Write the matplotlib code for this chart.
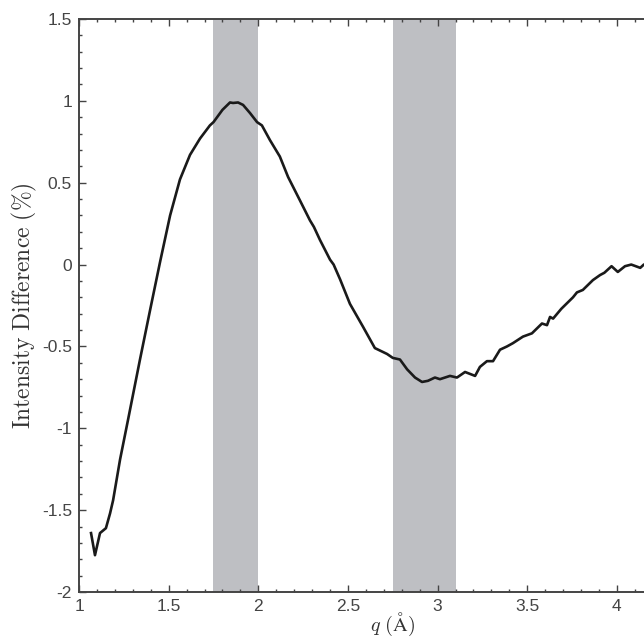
import matplotlib
matplotlib.use("Agg")
import matplotlib.pyplot as plt
from matplotlib.ticker import MultipleLocator

# data
q = [1.067, 1.089, 1.117, 1.15, 1.173, 1.19, 1.229, 1.273, 1.34, 1.396,
     1.452, 1.508, 1.563, 1.619, 1.647, 1.675, 1.73, 1.75, 1.80, 1.842,
     1.859, 1.887, 1.915, 1.954, 1.993, 2.02, 2.065, 2.12, 2.166, 2.233,
     2.288, 2.31, 2.344, 2.40, 2.42, 2.456, 2.511, 2.584, 2.65, 2.718, 2.75, 2.79,
     2.83, 2.874, 2.913, 2.946, 2.985, 3.013, 3.069, 3.108, 3.153, 3.209,
     3.236, 3.275, 3.309, 3.348, 3.387, 3.42, 3.476, 3.526, 3.582, 3.61,
     3.627, 3.644, 3.69, 3.755, 3.777, 3.81, 3.866, 3.906, 3.93, 3.97,
     4.005, 4.045, 4.08, 4.13, 4.15, 4.2]
diff = [-1.64, -1.775, -1.64, -1.61, -1.52, -1.44, -1.19, -0.95, -0.58, -0.28,
        0.016, 0.30, 0.52, 0.67, 0.72, 0.77, 0.85, 0.87, 0.945, 0.99,
        0.987, 0.99, 0.975, 0.925, 0.87, 0.85, 0.76, 0.66, 0.535, 0.39,
        0.27, 0.23, 0.15, 0.03, 0.0, -0.09, -0.24, -0.38, -0.51, -0.546, -0.57, -0.58,
        -0.64, -0.69, -0.717, -0.71, -0.69, -0.70, -0.68, -0.69, -0.656, -0.68,
        -0.625, -0.59, -0.59, -0.52, -0.50, -0.48, -0.44, -0.42, -0.36, -0.37,
        -0.32, -0.33, -0.27, -0.2, -0.17, -0.155, -0.095, -0.064, -0.05, -0.01,
        -0.045, -0.01, 0.0, -0.02, 0.0, 0.01]
bands = [(1.75, 2.0), (2.75, 3.1)]
xticks = [1, 1.5, 2, 2.5, 3, 3.5, 4]
xlabels = ['1', '1.5', '2', '2.5', '3', '3.5', '4']
yticks = [-2, -1.5, -1, -0.5, 0, 0.5, 1, 1.5]
ylabels = ['-2', '-1.5', '-1', '-0.5', '0', '0.5', '1', '1.5']

plt.rcParams['mathtext.fontset'] = 'cm'
plt.rcParams['font.family'] = 'Liberation Sans'
grey = '#444444'

fig = plt.figure(figsize=(6.44, 6.41), dpi=100)
ax = fig.add_axes([0.1227, 0.0764, 3.5 * 179.3 / 644, 0.894])

for lo, hi in bands:
    ax.axvspan(lo, hi, color='#bebfc3', lw=0, zorder=0)

ax.plot(q, diff, color='#1a1a1a', lw=1.9, zorder=3)

ax.set_xlim(1, 4.5)
ax.set_ylim(-2, 1.5)
ax.xaxis.set_minor_locator(MultipleLocator(0.1))
ax.yaxis.set_minor_locator(MultipleLocator(0.1))
ax.set_xticks(xticks)
ax.set_xticklabels(xlabels)
ax.set_yticks(yticks)
ax.set_yticklabels(ylabels)
ax.tick_params(which='both', direction='in', top=True, right=True,
               colors=grey, labelsize=12.5, width=1.0)
ax.tick_params(which='major', length=5, pad=5)
ax.tick_params(which='minor', length=2.5)
for s in ax.spines.values():
    s.set_color(grey)
    s.set_linewidth(1.4)

ax.set_xlabel(r'$q\ (\mathrm{\AA})$', fontsize=14.5, color='#333333', labelpad=-2)
ax.set_ylabel(r'$\mathrm{Intensity\ Difference\ (\%)}$', fontsize=17,
              color='#333333', labelpad=2)

fig.savefig('out.png', dpi=100)
